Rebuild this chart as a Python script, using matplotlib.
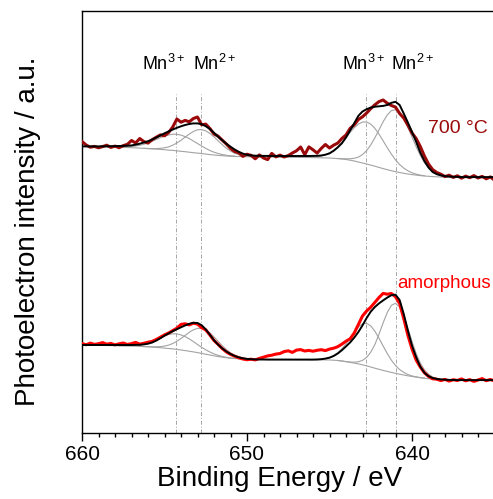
import numpy as np
import matplotlib.pyplot as plt
from matplotlib.ticker import MultipleLocator

# ============================================
# STYLE
# ============================================
plt.rcParams['font.family'] = ['Liberation Sans', 'DejaVu Sans']
plt.rcParams['mathtext.fontset'] = 'custom'
plt.rcParams['mathtext.rm'] = 'Liberation Sans'
plt.rcParams['mathtext.default'] = 'regular'

DARK_RED = '#9b0a0a'
RED = '#ff0000'
GREY = '#a3a3a3'

# ============================================
# DATA (Mn 2p region, a.u.)
# ============================================
energy = np.linspace(660, 635, 101)          # binding energy, 0.25 eV steps

# --- 700 C sample ---
top_data = [290.5, 287.0, 284.8, 285.6, 284.2, 285.4, 286.8, 284.6, 285.9, 284.3,
            286.4, 287.6, 291.5, 289.0, 293.5, 290.4, 288.9, 292.3, 294.8, 297.1,
            296.2, 299.5, 305.0, 313.0, 309.8, 311.6, 310.2, 313.5, 315.0, 307.2,
            307.9, 303.5, 298.0, 295.8, 291.8, 288.0, 283.6, 280.5, 279.2, 275.6,
            277.8, 276.6, 273.2, 277.1, 274.0, 272.4, 278.6, 275.1, 276.9, 275.0,
            276.4, 279.0, 281.2, 285.0, 277.3, 285.1, 282.2, 278.9, 283.6, 287.5,
            284.0, 286.8, 288.9, 293.5, 297.0, 303.6, 307.2, 312.5, 315.2, 319.0,
            323.4, 327.2, 330.4, 332.0, 328.8, 326.5, 324.9, 318.5, 314.0, 306.8,
            299.0, 293.5, 285.6, 276.0, 268.0, 262.4, 259.5, 257.8, 255.4, 256.8,
            254.6, 256.2, 253.8, 255.9, 254.3, 256.4, 254.0, 255.6, 253.2, 255.1,
            251.8]
top_fit = [285.6, 285.6, 285.6, 285.6, 285.6, 285.7, 285.7, 285.8, 285.9, 286.0,
           286.1, 286.3, 286.6, 287.3, 288.3, 289.5, 290.8, 292.5, 294.5, 296.6,
           298.7, 300.6, 302.5, 304.2, 305.7, 307.0, 308.0, 308.6, 308.6, 307.8,
           305.8, 303.0, 299.2, 295.3, 291.8, 288.2, 285.3, 282.5, 280.2, 278.4,
           277.2, 276.6, 276.3, 276.2, 276.1, 276.1, 276.0, 276.0, 276.0, 276.0,
           276.0, 276.0, 276.0, 276.0, 276.0, 276.0, 276.1, 276.2, 276.5, 277.3,
           278.6, 281.2, 284.6, 288.7, 294.5, 301.5, 308.8, 316.2, 320.5, 322.8,
           324.4, 325.3, 325.7, 326.1, 327.0, 329.2, 330.2, 327.0, 318.5, 309.5,
           300.0, 290.2, 279.5, 271.0, 264.5, 260.0, 257.8, 256.6, 255.9, 255.5,
           255.2, 255.1, 255.0, 254.9, 254.9, 254.9, 254.9, 254.9, 254.9, 254.9,
           254.9]
top_bkg = [285.5, 285.5, 285.4, 285.4, 285.3, 285.2, 285.1, 285.0, 284.9, 284.8,
           284.6, 284.5, 284.3, 284.1, 283.9, 283.6, 283.4, 283.1, 282.9, 282.6,
           282.3, 281.9, 281.6, 281.2, 280.7, 280.3, 279.8, 279.3, 278.9, 278.4,
           277.9, 277.4, 277.0, 276.6, 276.3, 276.0, 275.8, 275.6, 275.5, 275.4,
           275.3, 275.2, 275.1, 275.1, 275.0, 275.0, 274.9, 274.9, 274.8, 274.8,
           274.7, 274.7, 274.6, 274.6, 274.5, 274.5, 274.4, 274.3, 274.2, 274.1,
           274.0, 273.7, 273.4, 273.0, 272.5, 271.8, 271.0, 270.0, 269.0, 268.0,
           266.9, 265.8, 264.6, 263.4, 262.3, 261.3, 260.3, 259.5, 258.7, 258.0,
           257.4, 256.9, 256.4, 256.0, 255.7, 255.4, 255.2, 255.0, 254.9, 254.8,
           254.8, 254.7, 254.7, 254.6, 254.6, 254.6, 254.6, 254.6, 254.6, 254.6,
           254.6]
# fitted components: height above background, (start energy, values)
top_mn3_p12 = (657.75, [0.2, 0.4, 0.7, 1.2, 1.9, 2.8, 4.1, 5.7, 7.6, 9.6, 11.7, 13.6, 15.1, 16.2, 16.5,
                        16.2, 15.1, 13.6, 11.7, 9.6, 7.6, 5.7, 4.1, 2.8, 1.9, 1.2, 0.7, 0.4, 0.2])
top_mn2_p12 = (656.25, [0.05, 0.1, 0.3, 0.5, 1.1, 1.9, 3.2, 5.2, 7.8, 11.0, 14.6, 18.1, 21.2, 23.3, 24.0,
                        23.3, 21.2, 18.1, 14.6, 11.0, 7.8, 5.2, 3.2, 1.9, 1.1, 0.5, 0.3, 0.1, 0.05])
top_mn3_p32 = (646.25, [0.3, 0.5, 1.0, 1.8, 3.2, 5.2, 8.0, 11.8, 16.6, 22.0, 27.8, 33.3, 37.9, 41.0, 42.0,
                        41.0, 37.9, 33.3, 27.8, 22.0, 16.6, 11.8, 8.0, 5.2, 3.2, 1.8, 1.0, 0.5, 0.3])
top_mn2_p32 = (644.5, [0.1, 0.3, 0.7, 1.4, 2.7, 4.9, 8.4, 13.4, 20.2, 28.4, 37.6, 46.8, 54.7, 60.1, 62.0,
                       60.1, 54.7, 46.8, 37.6, 28.4, 20.2, 13.4, 8.4, 4.9, 2.7, 1.4, 0.7, 0.3, 0.1])

# --- amorphous sample ---
bot_data = [88.5, 87.2, 88.9, 87.6, 88.3, 89.4, 87.8, 88.6, 87.1, 88.2,
            89.0, 87.5, 88.4, 89.6, 87.9, 88.7, 89.8, 90.6, 92.5, 94.8,
            97.1, 99.0, 101.4, 103.8, 107.6, 108.2, 107.1, 108.8, 107.9, 104.3,
            102.1, 97.0, 91.5, 87.6, 83.4, 80.1, 77.6, 75.8, 74.2, 73.0,
            72.3, 72.8, 72.1, 73.6, 74.8, 76.1, 76.8, 77.9, 78.5, 80.4,
            81.2, 79.6, 81.9, 82.4, 81.0, 81.6, 80.8, 81.7, 82.3, 81.4,
            82.9, 83.8, 85.3, 87.9, 90.8, 93.2, 99.0, 107.5, 116.0, 121.0,
            124.8, 129.6, 134.5, 138.6, 137.8, 138.5, 135.2, 128.4, 113.5, 96.8,
            83.1, 72.0, 65.0, 59.3, 55.6, 53.2, 52.8, 51.4, 52.6, 50.9,
            52.3, 51.5, 53.1, 51.2, 52.4, 50.6, 52.0, 53.4, 51.3, 52.5,
            51.1]
bot_fit = [87.0, 87.0, 87.0, 87.0, 87.0, 87.0, 87.0, 87.0, 87.0, 87.0,
           87.0, 87.0, 87.0, 87.1, 87.2, 87.6, 88.3, 89.5, 91.4, 93.8,
           96.3, 98.6, 100.8, 102.8, 104.7, 106.6, 108.2, 109.2, 109.0, 106.8,
           102.6, 97.3, 91.8, 87.3, 83.6, 80.5, 78.0, 76.1, 74.7, 73.7,
           73.1, 72.8, 72.6, 72.5, 72.5, 72.4, 72.4, 72.4, 72.4, 72.4,
           72.4, 72.4, 72.4, 72.4, 72.4, 72.4, 72.4, 72.5, 72.8, 73.4,
           74.3, 76.0, 78.5, 81.8, 85.6, 89.6, 94.4, 100.0, 106.6, 114.0,
           120.4, 125.0, 128.6, 131.6, 134.4, 136.8, 137.3, 132.0, 118.0, 101.5,
           86.5, 75.0, 65.5, 59.2, 55.8, 54.0, 53.1, 52.6, 52.3, 52.1,
           52.0, 51.9, 51.9, 51.9, 51.9, 51.9, 51.9, 51.9, 51.9, 51.9,
           51.9]
bot_bkg = [86.8, 86.8, 86.7, 86.7, 86.6, 86.6, 86.5, 86.4, 86.3, 86.2,
           86.1, 86.0, 85.9, 85.8, 85.6, 85.4, 85.2, 84.9, 84.6, 84.3,
           83.9, 83.5, 83.1, 82.6, 82.0, 81.4, 80.8, 80.1, 79.4, 78.6,
           77.8, 77.0, 76.2, 75.5, 74.8, 74.3, 73.8, 73.5, 73.2, 73.0,
           72.9, 72.8, 72.8, 72.7, 72.7, 72.7, 72.7, 72.6, 72.6, 72.6,
           72.6, 72.5, 72.5, 72.5, 72.5, 72.4, 72.4, 72.3, 72.2, 72.1,
           72.0, 71.8, 71.5, 71.0, 70.3, 69.6, 68.9, 68.1, 67.2, 66.2,
           65.0, 63.8, 62.7, 61.6, 60.6, 59.6, 58.7, 57.8, 57.0, 56.2,
           55.5, 54.9, 54.3, 53.8, 53.3, 52.9, 52.6, 52.3, 52.1, 51.9,
           51.8, 51.7, 51.7, 51.6, 51.6, 51.6, 51.6, 51.6, 51.6, 51.6,
           51.6]
bot_mn3_p12 = (657.75, [0.1, 0.2, 0.4, 0.7, 1.2, 1.9, 3.0, 4.4, 6.1, 8.1, 10.3, 12.3, 14.0, 15.1, 15.5,
                        15.1, 14.0, 12.3, 10.3, 8.1, 6.1, 4.4, 3.0, 1.9, 1.2, 0.7, 0.4, 0.2, 0.1])
bot_mn2_p12 = (656.25, [0.05, 0.1, 0.3, 0.6, 1.1, 2.0, 3.4, 5.4, 8.1, 11.5, 15.2, 18.9, 22.1, 24.2, 25.0,
                        24.2, 22.1, 18.9, 15.2, 11.5, 8.1, 5.4, 3.4, 2.0, 1.1, 0.6, 0.3, 0.1, 0.05])
bot_mn3_p32 = (646.25, [0.05, 0.1, 0.3, 0.6, 1.3, 2.6, 4.6, 7.8, 12.2, 17.9, 24.4, 31.1, 37.0, 41.1, 42.5,
                        41.1, 37.0, 31.1, 24.4, 17.9, 12.2, 7.8, 4.6, 2.6, 1.3, 0.6, 0.3, 0.1, 0.05])
bot_mn2_p32 = (644.5, [0.0, 0.05, 0.1, 0.4, 0.9, 2.1, 4.4, 8.4, 14.8, 23.7, 35.1, 47.5, 58.9, 67.1, 70.0,
                       67.1, 58.9, 47.5, 35.1, 23.7, 14.8, 8.4, 4.4, 2.1, 0.9, 0.4, 0.1, 0.05, 0.0])

# peak positions (eV) and their labels
peak_pos = [654.3, 652.8, 642.8, 641.0]
peak_labels = ['Mn$^{3+}$', 'Mn$^{2+}$', 'Mn$^{3+}$', 'Mn$^{2+}$']
label_pos = [656.36, 653.3, 644.24, 641.3]


def on_grid(bkg, comp):
    """Put a component (start energy, heights) on the energy grid, on top of its background."""
    start, vals = comp
    i0 = int(round((660 - start) * 4))
    out = np.full(energy.size, np.nan)
    out[i0:i0 + len(vals)] = np.array(bkg[i0:i0 + len(vals)]) + np.array(vals)
    return out


# ============================================
# PLOT
# ============================================
fig = plt.figure(figsize=(4.93, 4.99), dpi=100)
ax = fig.add_axes([82 / 493, 66 / 499, 429 / 493, 422 / 499])

for e in peak_pos:
    ax.vlines(e, -1, 338, colors='#a6a6a6', linestyles=(0, (4, 2, 1, 2)), lw=0.7, zorder=1)

for bkg, comps in [(top_bkg, [top_mn3_p12, top_mn2_p12, top_mn3_p32, top_mn2_p32]),
                   (bot_bkg, [bot_mn3_p12, bot_mn2_p12, bot_mn3_p32, bot_mn2_p32])]:
    ax.plot(energy, bkg, color=GREY, lw=0.8, zorder=2)
    for c in comps:
        ax.plot(energy, on_grid(bkg, c), color=GREY, lw=0.8, zorder=2)

ax.plot(energy, top_data, color=DARK_RED, lw=2.2, zorder=3)
ax.plot(energy, bot_data, color=RED, lw=2.2, zorder=3)
ax.plot(energy, top_fit, color='black', lw=1.4, zorder=4)
ax.plot(energy, bot_fit, color='black', lw=1.4, zorder=4)

for x, lab in zip(label_pos, peak_labels):
    ax.text(x, 362, lab, fontsize=13, ha='left', va='baseline')
ax.text(639.03, 299, '700 °C', fontsize=14, color=DARK_RED, ha='left', va='baseline')
ax.text(640.9, 144, 'amorphous', fontsize=13.5, color=RED, ha='left', va='baseline')

ax.set_xlim(660, 634)
ax.set_ylim(-1, 421)
ax.set_xticks([660, 650, 640])
ax.xaxis.set_minor_locator(MultipleLocator(1))
ax.set_yticks([])
ax.tick_params(axis='x', which='major', direction='out', length=5.8, width=1.0, labelsize=15, pad=2.5)
ax.tick_params(axis='x', which='minor', direction='out', length=2.9, width=1.0)
for s in ax.spines.values():
    s.set_linewidth(1.0)

ax.set_xlabel('Binding Energy / eV', fontsize=20)
ax.xaxis.set_label_coords(0.4615, -0.078)
ax.set_ylabel('Photoelectron intensity / a.u.', fontsize=20)
ax.yaxis.set_label_coords(-0.096, 0.477)

fig.savefig('out.png', dpi=100)
plt.close()
